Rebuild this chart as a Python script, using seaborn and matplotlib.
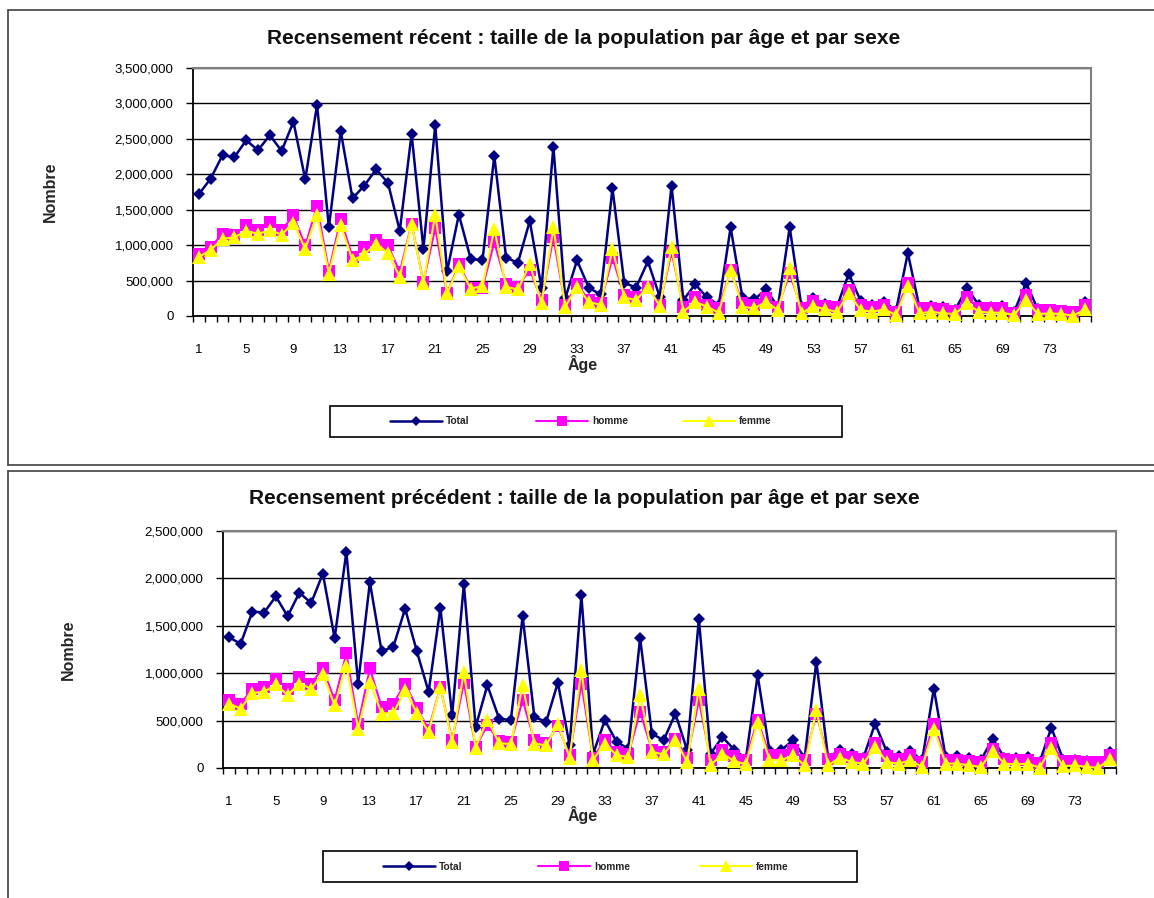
import matplotlib
matplotlib.use("Agg")
import matplotlib.pyplot as plt
import seaborn as sns
from matplotlib.lines import Line2D
from matplotlib.patches import Rectangle
from matplotlib.ticker import FuncFormatter, MultipleLocator, FixedLocator

# ----- data (ages 1..76) -----
ages = list(range(1, 77))

recent_total = [
    1720000, 1940000, 2270000, 2240000, 2480000, 2340000, 2550000, 2330000, 2740000, 1930000,
    2980000, 1250000, 2610000, 1660000, 1840000, 2070000, 1880000, 1200000, 2570000, 950000,
    2690000, 630000, 1430000, 808000, 785000, 2260000, 822000, 752000, 1340000, 397000,
    2390000, 248000, 785000, 397000, 304000, 1800000, 467000, 402000, 771000, 271000,
    1840000, 224000, 449000, 262000, 154000, 1250000, 262000, 234000, 374000, 130000,
    1250000, 130000, 248000, 164000, 131000, 598000, 215000, 154000, 200000, 75000,
    888000, 107000, 145000, 121000, 84000, 397000, 154000, 131000, 140000, 61000,
    467000, 93000, 61000, 61000, 37000, 200000]
recent_homme = [
    879000, 972000, 1160000, 1150000, 1280000, 1210000, 1320000, 1210000, 1420000, 995000,
    1550000, 636000, 1370000, 832000, 972000, 1070000, 995000, 622000, 1300000, 481000,
    1240000, 318000, 729000, 400000, 400000, 1040000, 458000, 411000, 654000, 224000,
    1110000, 154000, 449000, 224000, 187000, 822000, 294000, 271000, 411000, 154000,
    902000, 131000, 271000, 154000, 107000, 645000, 178000, 154000, 248000, 131000,
    600000, 107000, 215000, 140000, 121000, 364000, 154000, 131000, 154000, 61000,
    470000, 107000, 107000, 93000, 75000, 262000, 107000, 107000, 107000, 47000,
    294000, 84000, 84000, 75000, 61000, 154000]
recent_femme = [
    832000, 935000, 1090000, 1110000, 1200000, 1160000, 1210000, 1150000, 1310000, 949000,
    1430000, 598000, 1280000, 785000, 869000, 1020000, 888000, 551000, 1300000, 467000,
    1430000, 318000, 701000, 388000, 420000, 1230000, 411000, 374000, 729000, 178000,
    1250000, 131000, 411000, 200000, 154000, 949000, 262000, 224000, 411000, 140000,
    972000, 61000, 200000, 131000, 47000, 654000, 131000, 107000, 200000, 84000,
    680000, 37000, 140000, 93000, 61000, 318000, 84000, 61000, 93000, 14000,
    430000, 37000, 61000, 37000, 28000, 178000, 61000, 47000, 47000, 14000,
    224000, 28000, 37000, 28000, 5000, 93000]

previous_total = [
    1380000, 1310000, 1650000, 1640000, 1810000, 1600000, 1850000, 1740000, 2050000, 1370000,
    2280000, 891000, 1960000, 1230000, 1280000, 1680000, 1230000, 803000, 1690000, 556000,
    1940000, 433000, 873000, 521000, 504000, 1600000, 539000, 486000, 901000, 239000,
    1820000, 151000, 504000, 275000, 204000, 1370000, 363000, 292000, 574000, 187000,
    1570000, 151000, 327000, 194000, 99000, 979000, 187000, 187000, 292000, 109000,
    1120000, 109000, 194000, 144000, 109000, 468000, 169000, 123000, 180000, 81000,
    838000, 116000, 123000, 109000, 81000, 310000, 109000, 109000, 116000, 63000,
    426000, 88000, 88000, 74000, 63000, 169000]
previous_homme = [
    715000, 673000, 838000, 856000, 944000, 838000, 961000, 891000, 1050000, 715000,
    1210000, 461000, 1050000, 644000, 680000, 891000, 637000, 405000, 856000, 292000,
    898000, 222000, 451000, 285000, 275000, 715000, 292000, 264000, 440000, 134000,
    891000, 109000, 292000, 169000, 151000, 592000, 194000, 169000, 310000, 109000,
    715000, 88000, 194000, 123000, 88000, 511000, 134000, 134000, 187000, 88000,
    574000, 99000, 151000, 116000, 99000, 264000, 123000, 99000, 134000, 63000,
    468000, 88000, 88000, 74000, 63000, 204000, 99000, 88000, 88000, 53000,
    264000, 74000, 74000, 63000, 63000, 134000]
previous_femme = [
    680000, 627000, 792000, 803000, 884000, 768000, 891000, 838000, 989000, 662000,
    1080000, 415000, 908000, 574000, 581000, 820000, 581000, 380000, 856000, 275000,
    1010000, 215000, 511000, 264000, 250000, 873000, 257000, 239000, 461000, 109000,
    1030000, 88000, 257000, 134000, 116000, 768000, 169000, 144000, 299000, 63000,
    838000, 28000, 151000, 74000, 39000, 486000, 88000, 81000, 134000, 28000,
    609000, 28000, 109000, 63000, 46000, 222000, 63000, 46000, 81000, 11000,
    415000, 46000, 46000, 28000, 11000, 180000, 46000, 39000, 46000, 4000,
    215000, 18000, 28000, 11000, 2000, 99000]

series_names = ["Total", "homme", "femme"]
series_colors = ["#000080", "#FF00FF", "#FFFF00"]
series_markers = ["D", "s", "^"]

W, H = 1154, 898

sns.set_theme(style="white")
plt.rcParams["font.family"] = ["Liberation Sans", "DejaVu Sans"]

fig = plt.figure(figsize=(W / 100, H / 100), dpi=100)
fig.patch.set_facecolor("white")


def fx(px):
    return px / W


def fy(py):
    return 1 - py / H


def draw_panel(rect, title, total, homme, femme, ymax, title_y, ylab_x, xlab_y,
               legend_box, legend_x):
    left, top, right, bottom = rect
    ax = fig.add_axes([fx(left), fy(bottom), fx(right) - fx(left), fy(top) - fy(bottom)])
    sizes = [6.5, 8.5, 9.5]
    widths = [1.8, 1.5, 1.5]
    handles = []
    for name, vals, col, mk, ms, lw in zip(series_names, [total, homme, femme], series_colors,
                                           series_markers, sizes, widths):
        sns.lineplot(x=ages, y=vals, ax=ax, color=col, marker=mk, markersize=ms, mew=0,
                     linewidth=lw, clip_on=False, zorder=3)
        handles.append(Line2D([], [], color=col, marker=mk, markersize=ms * 0.85, mew=0,
                              linewidth=lw))

    ax.set_xlim(0.5, 76.5)
    ax.set_ylim(0, ymax)
    ax.yaxis.set_major_locator(MultipleLocator(500000))
    ax.yaxis.set_major_formatter(FuncFormatter(lambda v, p: f"{int(v):,}"))
    ax.xaxis.set_major_locator(FixedLocator(list(range(1, 77, 4))))
    ax.xaxis.set_minor_locator(FixedLocator([a + 0.5 for a in range(0, 77)]))
    ax.tick_params(axis="x", which="major", length=0, pad=20, labelsize=9.5, colors="black")
    ax.tick_params(axis="x", which="minor", length=4, width=1, direction="out", color="black",
                   bottom=True)
    ax.tick_params(axis="y", length=5, width=1, direction="out", pad=9, labelsize=9.5,
                   colors="black", left=True)
    ax.grid(axis="y", color="black", linewidth=1)
    ax.grid(axis="x", visible=False)
    ax.set_axisbelow(True)
    ax.set_xlabel("")
    ax.set_ylabel("")
    for s in ["left", "bottom"]:
        ax.spines[s].set_color("black")
        ax.spines[s].set_linewidth(1.3)
    for s in ["top", "right"]:
        ax.spines[s].set_color("#808080")
        ax.spines[s].set_linewidth(1.5)

    fig.text(fx(584), fy(title_y), title, ha="center", va="center",
             fontsize=15, fontweight="bold", color="#111111")
    fig.text(fx(ylab_x), fy((top + bottom) / 2), "Nombre", rotation=90, ha="center",
             va="center", fontsize=11.5, fontweight="bold")
    fig.text(fx(583), fy(xlab_y), "Âge", ha="center", va="center",
             fontsize=11.5, fontweight="bold")

    bx0, by0, bx1, by1 = legend_box
    fig.add_artist(Rectangle((fx(bx0), fy(by1)), fx(bx1) - fx(bx0), fy(by0) - fy(by1),
                             transform=fig.transFigure, fill=False, edgecolor="black",
                             linewidth=1.2))
    for h, name, lx in zip(handles, series_names, legend_x):
        fig.legend(handles=[h], labels=[name], loc="center left",
                   bbox_to_anchor=(fx(lx), fy((by0 + by1) / 2)), frameon=False,
                   borderpad=0, borderaxespad=0, handlelength=5.1, handletextpad=0.4,
                   prop={"size": 7.3, "weight": "bold"})
    return ax


draw_panel((193, 68, 1091, 316), "Recensement récent : taille de la population par âge et par sexe",
           recent_total, recent_homme, recent_femme, 3500000,
           title_y=38, ylab_x=50, xlab_y=364,
           legend_box=(330, 406, 842, 437), legend_x=[390, 536, 683])

draw_panel((223, 531, 1116, 768), "Recensement précédent : taille de la population par âge et par sexe",
           previous_total, previous_homme, previous_femme, 2500000,
           title_y=499, ylab_x=68, xlab_y=815,
           legend_box=(323, 851, 857, 882), legend_x=[383, 538, 700])

# outer chart frames
frame_kw = dict(transform=fig.transFigure, color="#404040", linewidth=1.2)
fig.add_artist(Line2D([fx(8), 1], [fy(10), fy(10)], **frame_kw))
fig.add_artist(Line2D([fx(8), fx(8)], [fy(10), fy(465)], **frame_kw))
fig.add_artist(Line2D([fx(8), 1], [fy(465), fy(465)], **frame_kw))
fig.add_artist(Line2D([fx(8), 1], [fy(471), fy(471)], **frame_kw))
fig.add_artist(Line2D([fx(8), fx(8)], [fy(471), 0], **frame_kw))

fig.savefig("out.png", dpi=100, facecolor="white")
